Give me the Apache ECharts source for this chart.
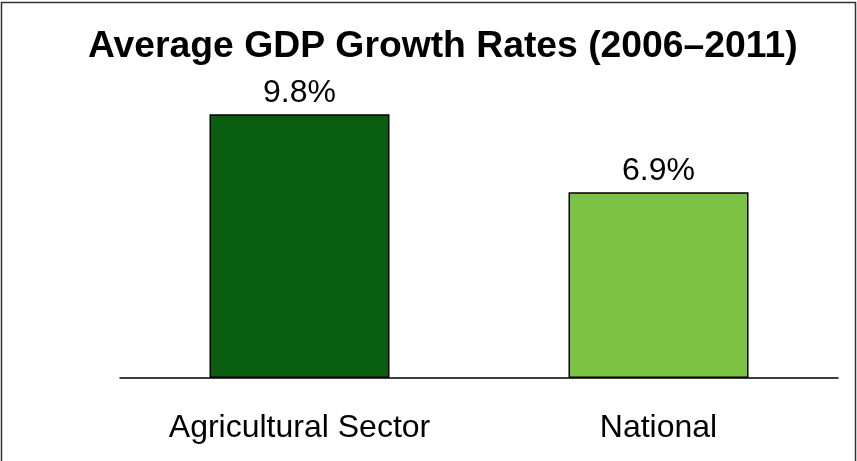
<!DOCTYPE html>
<html>
<head>
<meta charset="utf-8">
<script src="https://cdn.jsdelivr.net/npm/echarts@6/dist/echarts.min.js"></script>
<style>html,body{margin:0;padding:0;background:#fff}#c{width:857px;height:461px}</style>
</head>
<body>
<div id="c"></div>
<script>
var categories = ['Agricultural Sector', 'National'];
var values = [9.8, 6.9];
var barColors = ['#085e0e', '#7cc243'];
var titleText = 'Average GDP Growth Rates (2006\u20132011)';

var chart = echarts.init(document.getElementById('c'), null, {renderer: 'canvas'});
chart.setOption({
  animation: false,
  backgroundColor: '#ffffff',
  title: {
    text: titleText,
    left: 83,
    top: 23,
    textStyle: {fontFamily: 'Liberation Sans', fontWeight: 'bold', fontSize: 37.3, color: '#000'}
  },
  graphic: [{
    type: 'rect', silent: true,
    shape: {x: 1.5, y: 2.5, width: 854, height: 480},
    style: {fill: 'none', stroke: '#333', lineWidth: 1.5}
  }],
  grid: {left: 120, right: 19, top: 55, bottom: 83},
  xAxis: {
    type: 'category',
    data: categories,
    axisLine: {show: true, lineStyle: {color: '#000', width: 1.5}},
    axisTick: {show: false},
    axisLabel: {margin: 34, fontFamily: 'Liberation Sans', fontSize: 32, color: '#000'}
  },
  yAxis: {
    type: 'value', min: 0, max: 12,
    show: false,
    splitLine: {show: false}
  },
  series: [{
    type: 'bar',
    barWidth: 180,
    data: values.map(function (v, i) {
      return {value: v, itemStyle: {color: barColors[i]}};
    }),
    itemStyle: {borderColor: '#000', borderWidth: 1.5},
    label: {
      show: true, position: 'top', distance: 5,
      formatter: function (p) { return p.value.toFixed(1) + '%'; },
      fontFamily: 'Liberation Sans', fontSize: 32, color: '#000'
    }
  }]
});
</script>
</body>
</html>
